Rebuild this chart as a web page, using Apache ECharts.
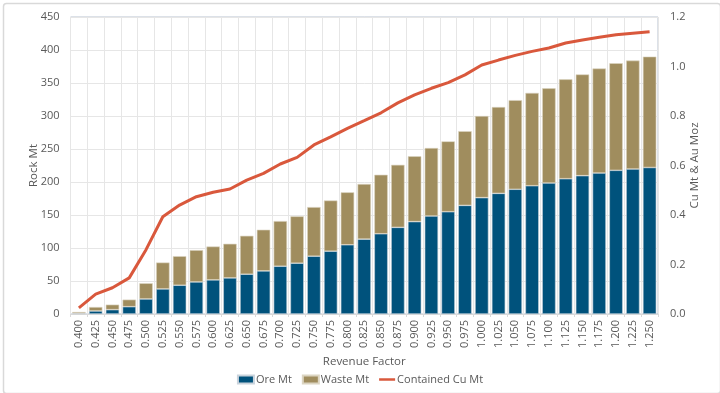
<!DOCTYPE html>
<html>
<head>
<meta charset="utf-8">
<script src="https://cdn.jsdelivr.net/npm/echarts@6/dist/echarts.min.js"></script>
<style>
html,body{margin:0;padding:0;background:#fff;}
#chart{width:720px;height:393px;}
</style>
</head>
<body>
<div id="chart"></div>
<script>
const categories = ['0.400','0.425','0.450','0.475','0.500','0.525','0.550','0.575','0.600','0.625','0.650','0.675','0.700','0.725','0.750','0.775','0.800','0.825','0.850','0.875','0.900','0.925','0.950','0.975','1.000','1.025','1.050','1.075','1.100','1.125','1.150','1.175','1.200','1.225','1.250'];
const oreMt = [1, 4.6, 6.6, 11.1, 22.8, 38, 43.6, 48.6, 51.7, 54.7, 60.3, 65.3, 72.4, 77, 87.6, 95.2, 104.9, 113.5, 121.6, 131.3, 140, 148.5, 155, 164.6, 176.3, 182.8, 189, 194.4, 198.5, 205, 209.6, 213.6, 217.7, 219.7, 222];
const wasteMt = [2, 6, 7.6, 10.7, 23.8, 40, 44, 48.2, 50.6, 51.7, 58.2, 62.4, 68.4, 71, 74.4, 76.8, 79.5, 83.5, 89.4, 94.7, 99, 103, 106.6, 112.4, 123.7, 130.8, 135, 140.6, 143.5, 150.6, 153.4, 158.4, 162.3, 164.3, 168];
const containedCuMt = [0.025, 0.08, 0.106, 0.146, 0.26, 0.393, 0.44, 0.474, 0.492, 0.505, 0.541, 0.568, 0.606, 0.633, 0.683, 0.716, 0.750, 0.781, 0.813, 0.853, 0.885, 0.912, 0.935, 0.966, 1.006, 1.026, 1.045, 1.061, 1.075, 1.095, 1.107, 1.118, 1.128, 1.134, 1.14];

const font = '"Open Sans", "Liberation Sans", sans-serif';
const txt = '#595959';
const chart = echarts.init(document.getElementById('chart'), null, {renderer:'canvas'});
chart.setOption({
  backgroundColor: '#fff',
  animation: false,
  textStyle: {fontFamily: font},
  graphic: [{
    type: 'rect', left: 1, top: 1, z: -10,
    shape: {width: 717, height: 390, r: 3},
    style: {fill: 'none', stroke: '#D9D9D9', lineWidth: 1.5}
  }],
  grid: {left: 70.5, right: 62, top: 17, bottom: 79, show: true, borderColor: '#B8C2D0', borderWidth: 1, backgroundColor: 'transparent'},
  legend: {
    bottom: 3, left: 'center', itemGap: 10, itemWidth: 16, itemHeight: 8,
    textStyle: {color: txt, fontSize: 11, fontFamily: font, padding: [0, 0, 0, -3]},
    data: [
      {name: 'Ore Mt', icon: 'rect'},
      {name: 'Waste Mt', icon: 'rect'},
      {name: 'Contained Cu Mt', icon: 'path://M0,0 L32,0 L32,5 L0,5 Z'}
    ]
  },
  xAxis: {
    type: 'category', data: categories,
    name: 'Revenue Factor', nameLocation: 'middle', nameGap: 37,
    nameTextStyle: {color: txt, fontSize: 11.5, fontFamily: font},
    axisLine: {show: true, lineStyle: {color: '#D9D9D9'}},
    axisTick: {show: true, length: 3, lineStyle: {color: '#D9D9D9'}},
    axisLabel: {rotate: 90, color: txt, fontSize: 11, fontFamily: font, interval: 0, margin: 6},
    splitLine: {show: true, interval: 0, lineStyle: {color: '#E6E6E6'}}
  },
  yAxis: [{
    type: 'value', min: 0, max: 450, interval: 50,
    name: 'Rock Mt', nameLocation: 'middle', nameGap: 31, nameRotate: 90, nameMoveOverlap: false,
    nameTextStyle: {color: txt, fontSize: 11.5, fontFamily: font},
    axisLine: {show: false}, axisTick: {show: false},
    axisLabel: {color: txt, fontSize: 11, fontFamily: font, margin: 11},
    splitLine: {lineStyle: {color: '#E6E6E6'}}
  }, {
    type: 'value', min: 0, max: 1.2, interval: 0.2,
    name: 'Cu Mt & Au Moz', nameLocation: 'middle', nameGap: 31, nameRotate: 90, nameMoveOverlap: false,
    nameTextStyle: {color: txt, fontSize: 11.5, fontFamily: font},
    axisLine: {show: false}, axisTick: {show: false},
    axisLabel: {color: txt, fontSize: 11, fontFamily: font, margin: 12, formatter: v => v.toFixed(1)},
    splitLine: {show: false}
  }],
  series: [{
    name: 'Ore Mt', type: 'bar', stack: 'rock', data: oreMt, barCategoryGap: '20%',
    itemStyle: {color: '#00527C', borderColor: '#C9D3DC', borderWidth: 0.6}
  }, {
    name: 'Waste Mt', type: 'bar', stack: 'rock', data: wasteMt,
    itemStyle: {color: '#A08D5E', borderColor: '#DCD5C2', borderWidth: 0.6}
  }, {
    name: 'Contained Cu Mt', type: 'line', yAxisIndex: 1, data: containedCuMt,
    showSymbol: false, symbol: 'none',
    lineStyle: {color: '#D9583C', width: 3},
    itemStyle: {color: '#D9583C'}
  }]
});
</script>
</body>
</html>
